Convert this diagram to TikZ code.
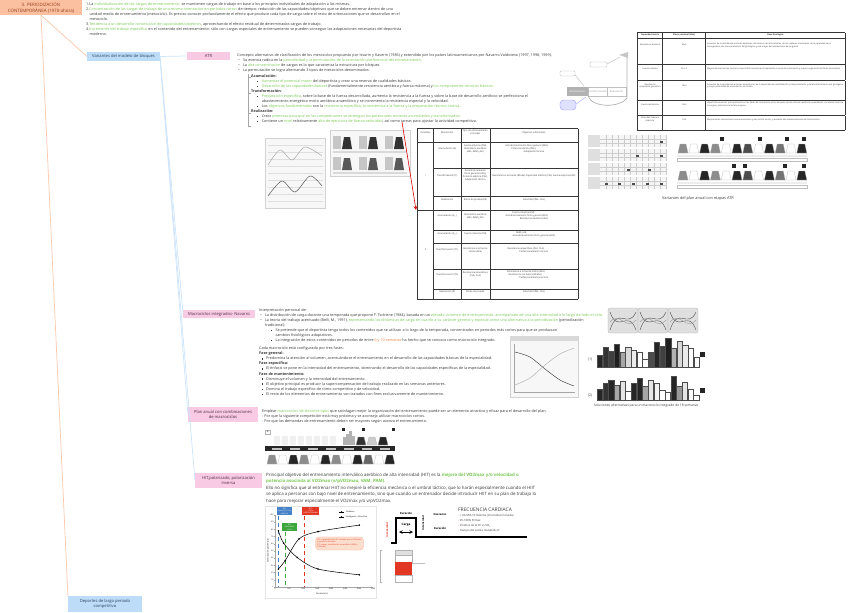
\documentclass[tikz,border=0pt]{standalone}
\usepackage{fontspec}
\setmainfont{Open Sans}
\usepackage{array}
\usetikzlibrary{arrows, positioning}

\definecolor{txtgray}{RGB}{55,55,55}
\definecolor{lgreen}{RGB}{120,200,80}
\definecolor{lorange}{RGB}{240,125,55}
\definecolor{rootfill}{RGB}{250,192,160}
\definecolor{roottext}{RGB}{150,60,25}
\definecolor{bluefill}{RGB}{188,220,248}
\definecolor{bluetext}{RGB}{45,65,95}
\definecolor{pinkfill}{RGB}{248,202,228}
\definecolor{pinktext}{RGB}{80,45,70}
\definecolor{orangeline}{RGB}{250,200,170}
\definecolor{blueline}{RGB}{205,228,250}
\definecolor{hitred}{RGB}{225,55,35}
\definecolor{hitblue}{RGB}{70,130,200}
\definecolor{hitgreen}{RGB}{60,165,60}
\definecolor{hitpeach}{RGB}{252,222,205}

\newcommand{\hlg}[1]{\textcolor{lgreen}{#1}}
\newcommand{\hlo}[1]{\textcolor{lorange}{#1}}
\newcommand{\bul}{\makebox[4pt][l]{\textbullet}}
\newcommand{\sqb}{\makebox[4pt][l]{\rule[0.2ex]{0.6ex}{0.6ex}}}
\newcommand{\fsmall}{\fontsize{3.2}{4.3}\selectfont}
\newcommand{\fhit}{\fontsize{3.75}{5.5}\selectfont}
\newcommand{\ftiny}{\fontsize{2}{2.5}\selectfont}
\newcommand{\fmicro}{\fontsize{1.8}{2.3}\selectfont}
\newcommand{\rh}[1]{\rule[\dimexpr-#1pt/2+0.5pt\relax]{0pt}{#1pt}}
\newcolumntype{C}[1]{>{\centering\arraybackslash}m{#1}}
\newcolumntype{L}[1]{>{\raggedright\arraybackslash}m{#1}}
\newcolumntype{Z}{@{}m{0pt}@{\hspace{1pt}}}

\tikzset{
    rootbox/.style={rectangle, fill=rootfill, text=roottext, align=center, inner sep=0pt, minimum width=69.7pt, minimum height=12.8pt, font=\fontsize{3.8}{4.8}\selectfont},
    bluebox/.style={rectangle, fill=bluefill, text=bluetext, align=center, inner sep=0pt, minimum height=7.7pt, font=\fontsize{3.5}{4.5}\selectfont},
    pinkbox/.style={rectangle, fill=pinkfill, text=pinktext, align=center, inner sep=0pt, minimum height=6.8pt, font=\fontsize{3.5}{4.5}\selectfont},
    txt/.style={anchor=north west, align=left, inner sep=0pt, text=txtgray, font=\fsmall},
    tabbox/.style={anchor=north west, inner sep=0pt, text=txtgray, font=\ftiny},
    omline/.style={draw=orangeline, line width=0.6pt},
    blline/.style={draw=blueline, line width=0.6pt},
    imgframe/.style={draw=gray!35, fill=gray!6, line width=0.2pt},
    redarrow/.style={->, draw=red!85!black, line width=0.5pt}
}

\begin{document}
\begin{tikzpicture}[x=0.03cm, y=-0.03cm, >=stealth, line width=0.3pt]
\useasboundingbox (0,0) rectangle (848,612);

        % -----------------------------------------------------------------
        % NODOS DEL MAPA
        % -----------------------------------------------------------------
        \node[rootbox] (root) at (41,7.5) {3. PERIODIZACIÓN\\CONTEMPORÁNEA (1970-ahora)};
        \node[bluebox, minimum width=62pt] (variantes) at (123.5,56.5) {Variantes del modelo de bloques};
        \node[bluebox, minimum width=63pt, minimum height=13.6pt] (deportes) at (105,604) {Deportes de largo periodo\\competitivo};
        \node[pinkbox, minimum width=36.6pt] (atr) at (208.5,56) {ATR};
        \node[pinkbox, minimum width=61pt] (macro) at (219,314) {Macrociclos integrados- Navarro};
        \node[pinkbox, minimum width=59.5pt, minimum height=12.8pt] (plan) at (223,414.5) {Plan anual con combinaciones\\de macrociclos};
        \node[pinkbox, minimum width=57pt, minimum height=12.8pt] (hit) at (228.5,480.5) {HIT,polarizado, polarización\\inversa};

        \draw[omline] (root.south) -- (deportes.north west);
        \draw[omline] (root.south) -- (variantes.west);
        \draw[blline] (variantes.east) -- (atr.west);
        \draw[blline] (variantes.east) -- (macro.west);
        \draw[blline] (variantes.east) -- (plan.west);
        \draw[blline] (variantes.east) -- (hit.west);

        % -----------------------------------------------------------------
        % PRINCIPIOS
        % -----------------------------------------------------------------
        \node[txt] (principios) at (86,2) {1.La \hlg{individualización de las cargas de entrenamiento:} se mantienen cargas de trabajo en base a los principios individuales de adaptación a las mismas.\\
2.\hlg{Concentración de las cargas de trabajo de una misma orientación en periodos cortos} de tiempo: reducción de las capacidades/objetivos que se deben entrenar dentro de una\\
\hspace*{3pt}unidad media de entrenamiento (mesociclo). Es preciso conocer profundamente el efecto que produce cada tipo de carga sobre el resto de orientaciones que se desarrollan en el\\
\hspace*{3pt}mesociclo.\\
3.\hlg{Tendencia a un desarrollo consecutivo de capacidades/objetivos}, aprovechando el efecto residual de determinadas cargas de trabajo.\\
4.\hlg{Incremento del trabajo específico} en el contenido del entrenamiento: sólo con cargas especiales de entrenamiento se pueden conseguir las adaptaciones necesarias del deportista\\
\hspace*{3pt}moderno.};

        % -----------------------------------------------------------------
        % ATR
        % -----------------------------------------------------------------
        \node[txt] (atrtxt) at (237,53) {Concepto alternativo de clasificación de los mesociclos propuesto por Issurin y Kaverin (1986) y extendido por los países latinoamericanos por Navarro Valdivieso (1997, 1998, 1999).\\
\hspace*{1pt}\bul Su esencia radica en la \hlg{periodicidad y la permutación de la orientación preferencial del entrenamiento}.\\
\hspace*{1pt}\bul La \hlg{alta concentración} de cargas es lo que caracteriza la estructura por bloques.\\
\hspace*{1pt}\bul La permutación se logra alternando 3 tipos de mesociclos denominados:\\[1pt]
\hspace*{12pt}\textbf{Acumulación:}\\
\hspace*{17pt}\sqb\hlg{Aumentar el potencial motor} del deportista y crear una reserva de cualidades básicas.\\
\hspace*{17pt}\sqb\hlg{Desarrollo de las capacidades básicas} (fundamentalmente resistencia aeróbica y fuerza máxima) y \hlg{los componentes técnicos básicos.}\\
\hspace*{12pt}\textbf{Transformación:}\\
\hspace*{17pt}\sqb\hlg{Preparación específica}, sobre la base de la fuerza desarrollada, aumenta la resistencia a la fuerza y sobre la base de desarrollo aeróbico se perfecciona el\\
\hspace*{21pt}abastecimiento energético mixto aeróbico-anaeróbico y se incrementa la resistencia especial y la velocidad.\\
\hspace*{17pt}\sqb Los \hlg{objetivos fundamentales} son la \hlg{resistencia específica, la resistencia a la fuerza y la preparación técnico-táctica}.\\
\hspace*{12pt}\textbf{Realización:}\\
\hspace*{17pt}\sqb Crear \hlg{premisas para que en las competiciones se obtengan los potenciales motores acumulados y transformados}.\\
\hspace*{17pt}\sqb Contiene un \hlg{nivel} relativamente \hlg{alto de ejercicios de fuerza-velocidad}, así como tareas para ajustar la actividad competitiva.};
        \draw[gray!70, line width=0.5pt] (248,74) -- (248,126);
        \foreach \yy in {77,93,113,126} \draw[gray!70, line width=0.5pt] (248,\yy) -- (251,\yy);

        % esquema ATR
        \fill[gray!60] (567,87) rectangle (588,96);
        \node[font=\fontsize{2.2}{2.6}\selectfont, text=white, inner sep=0pt] (acum) at (577.5,91.5) {Acumulación};
        \draw[gray!50, fill=white] (588,87) rectangle (607,96);
        \node[font=\fontsize{2.2}{2.6}\selectfont, text=gray!80, inner sep=0pt] (trans) at (597.5,91.5) {Transformación};
        \draw[gray!50, fill=white] (607,87) rectangle (626,96);
        \node[font=\fontsize{2.2}{2.6}\selectfont, text=gray!80, inner sep=0pt] (real) at (616.5,91.5) {Realización};
        \draw[gray!60, line width=0.6pt] (588,96) .. controls (592,108) and (620,108) .. (627,98) -- (627,55);
        \fill[gray!45] (619,55) -- (628,52) -- (628,58) -- cycle;
        \draw[gray!60, fill=white, rounded corners=1pt] (560,71) rectangle (575,76);
        \draw[gray!60] (575,75) -- (584,86);
        \draw[gray!60, fill=white, rounded corners=1pt] (590,62) rectangle (607,67);
        \draw[gray!60] (607,64) -- (620,57);
        \draw[blue!40, fill=blue!12, rounded corners=3pt] (560,100) rectangle (576,110);
        \draw[blue!40] (576,104) -- (586,97);

        % imagenes ATR
        \draw[imgframe] (265,138) rectangle (325,208);
        \foreach \yy in {145,152,...,205} \draw[gray!25, line width=0.15pt] (268,\yy) -- (323,\yy);
        \draw[gray!70, line width=0.4pt] plot[smooth] coordinates {(268,165) (280,150) (292,160) (305,147) (322,156)};
        \draw[black!70, line width=0.4pt] plot[smooth] coordinates {(268,196) (282,181) (295,192) (310,176) (322,186)};
        \draw[imgframe] (330,130) rectangle (410,176);
        \foreach \xx in {333,359,385} {
            \fill[gray!45] (\xx,136) rectangle (\xx+8,149);
            \fill[black!80] (\xx+9,149) -- (\xx+11,137) -- (\xx+17,137) -- (\xx+19,149) -- cycle;
            \fill[gray!45] (\xx,157) rectangle (\xx+8,170);
            \fill[black!65] (\xx+9,170) -- (\xx+11,158) -- (\xx+17,158) -- (\xx+19,170) -- cycle;
        }
        \fill[gray!30] (333,151) rectangle (407,153);
        \fill[gray!30] (333,172) rectangle (407,174);

        % tabla de capacidades
        \node[tabbox] (captab) at (637,32) {\fmicro\setlength{\tabcolsep}{1pt}\renewcommand{\arraystretch}{0.85}%
\begin{tabular}{|ZC{19.1pt}|C{34.4pt}|L{116.6pt}|}
\hline
\rh{4.3} & \textbf{Capacidad motriz} & \textbf{Efecto residual (días)} & \multicolumn{1}{C{116.6pt}|}{\textbf{Base fisiológica}}\\ \hline
\rh{22} & Resistencia aeróbica & 30±5 & Aumento de la cantidad de enzimas aeróbicas, del número de mitocondrias, de los capilares musculares, de la capacidad de la hemoglobina, del almacenamiento del glucógeno y una mayor del metabolismo de las grasas\\ \hline
\rh{13.6} & Fuerza máxima & 30 ± 5 & Mejora del mecanismo nervioso, hipertrofia muscular principalmente a causa del crecimiento y mayor longitud de las fibras musculares\\ \hline
\rh{16.2} & Resistencia anaeróbica glucolítica & 18±4 & Aumento de la cantidad de enzimas anaeróbicas, de la capacidad de neutralización y tamponamiento y del almacenamiento del glucógeno, y mayor posibilidad de acumulación de lactato\\ \hline
\rh{12.8} & Fuerza resistencia & 15±5 & Hipertrofia muscular principalmente en las fibras de contracción lenta, aumento de las enzimas aeróbicas-anaeróbicas, circulación local de la sangre y tolerancia al lactato mejores\\ \hline
\rh{12} & Velocidad máxima (aláctica) & 5±3 & Mejora de las interacciones neuromusculares y del control motor, y aumento del almacenamiento de fosfocreatina\\ \hline
\end{tabular}};

        % tabla de variantes
        \node[tabbox] (vartab) at (417,128) {\setlength{\tabcolsep}{1pt}\renewcommand{\arraystretch}{0.9}%
\begin{tabular}{|ZC{11.4pt}|C{20.8pt}|C{22.5pt}|C{72.6pt}|}
\hline
\rh{11} & Variantes & Mesociclos & Tipo de entrenamiento principal & Objetivos adicionales\\ \hline
\rh{22} & & Acumulación (A) & Fuerza máxima (FM), Resistencia aeróbica (AEL, AEM y AE) & Acondicionamiento físico general (AFG),\newline Potencia aláctica (PAL),\newline Adaptación técnica\\ \cline{3-5}
\rh{24} & I & Transformación (T) & Acondicionamiento físico general (AFG), Potencia aláctica (PAL), Adaptación técnica & Resistencia a la fuerza (RFaAe) Capacidad aláctica (CAL) Fuerza explosiva (FE)\\ \cline{3-5}
\rh{12} & & Realización & Ritmo de prueba (RP) & Velocidad (PAL, CAL)\\ \hline
\rh{17} & & Acumulación (A\textsubscript{1}) & Resistencia aeróbica (AEL, AEM y AE) & Fuerza máxima (FM)\newline Acondicionamiento físico general (AFG)\newline Resistencia aeróbica (AEL)\\ \cline{3-5}
\rh{11} & & Acumulación (A\textsubscript{2}) & Fuerza máxima (FM) & AEM y AE,\newline Acondicionamiento físico general (AFG)\\ \cline{3-5}
\rh{22} & II & Transformación (T1) & Resistencia a la fuerza láctica (RFa) & Resistencia anaeróbica (PLA, CLA)\newline Perfeccionamiento técnico\\ \cline{3-5}
\rh{17} & & Transformación (T2) & Resistencia anaeróbica (PLA, CLA) & Resistencia a la fuerza láctica (RFa)\newline Resistencia a la fuerza (RFaAe)\newline Perfeccionamiento técnico\\ \cline{3-5}
\rh{8.5} & & Realización (R) & Ritmo de prueba & Velocidad (PAL, CAL)\\ \hline
\end{tabular}};
        \coordinate (redstart) at (402,122);
        \coordinate (redend) at (416,210);
        \draw[redarrow] (redstart) -- (redend);

        % variantes del plan anual
        \foreach \yy in {135,149,163,177} {
            \fill[gray!8] (588,\yy) rectangle (667,\yy+12);
            \fill[gray!25] (588,\yy) rectangle (600,\yy+12);
            \foreach \xx in {606,612,...,666} \draw[gray!40, line width=0.15pt] (\xx,\yy) -- (\xx,\yy+12);
            \draw[gray!40, line width=0.15pt] (600,\yy+4) -- (667,\yy+4) (600,\yy+8) -- (667,\yy+8);
        }
        \foreach \xx/\yy in {660/143, 636/157, 660/157, 627/171, 648/171, 605/185, 618/185, 632/185, 646/185, 660/185}
            \fill[black!70] (\xx,\yy-2.5) rectangle (\xx+2.5,\yy);
        \foreach \base/\sh in {153/0, 180/1} {
            \foreach \i/\k in {0/45,1/0,2/85,3/45,4/0,5/85,6/70,7/0,8/85,9/55,10/0,11/85} {
                \filldraw[draw=gray!60, fill=black!\k, line width=0.2pt] (678+\i*10.8,\base) -- (680+\i*10.8,\base-9) -- (686+\i*10.8,\base-9) -- (688+\i*10.8,\base) -- cycle;
            }
            \fill[gray!15] (677,\base+2) rectangle (807,\base+4);
            \draw[gray!50, line width=0.2pt] (677,\base+5) rectangle (807,\base+8);
        }
        \foreach \xx/\yy in {720/137, 758/137, 785/137, 802/137, 732/164, 743/164, 783/164, 802/164}
            \fill[black!85] (\xx,\yy) rectangle (\xx+3.5,\yy+3.5);
        \node[font=\fontsize{3.3}{4}\selectfont, text=txtgray, inner sep=0pt] (captatr) at (698,198) {Variantes del plan anual con etapas ATR};

        % -----------------------------------------------------------------
        % MACROCICLOS INTEGRADOS
        % -----------------------------------------------------------------
        \node[txt] (macrotxt) at (259,308) {Interpretación personal de:\\
\hspace*{1pt}\bul La distribución de carga durante una temporada que propone F. Tschiene (1984), basada en un \hlg{elevado volumen de entrenamiento, acompañado de una alta intensidad a lo largo de todo el ciclo.}\\
\hspace*{1pt}\bul La teoría del trabajo acentuado (Belli, M., 1991), \hlg{representando las dinámicas de carga en cuanto a su carácter general y especial como una alternativa a la periodización} (periodización\\
\hspace*{5pt}tradicional).\\
\hspace*{10pt}\sqb Se pretende que el deportista tenga todos los contenidos que se utilizan a lo largo de la temporada, concentrados en periodos más cortos para que se produzcan\\
\hspace*{14pt}cambios fisiológicos adaptativos.\\
\hspace*{10pt}\sqb La integración de estos contenidos en periodos de entre \hlo{6 y 10 semanas} ha hecho que se conozca como macrociclo integrado.\\[3pt]
Cada macrociclo está configurado por tres fases:\\
\textbf{Fase general:}\\
\hspace*{2pt}\sqb Predomina la atención al volumen, acentuándose el entrenamiento en el desarrollo de las capacidades básicas de la especialidad.\\
\textbf{Fase específica:}\\
\hspace*{2pt}\sqb El énfasis se pone en la intensidad del entrenamiento, dominando el desarrollo de las capacidades específicas de la especialidad.\\
\textbf{Fase de mantenimiento:}\\
\hspace*{2pt}\sqb Disminuye el volumen y la intensidad del entrenamiento.\\
\hspace*{2pt}\sqb El objetivo principal es producir la supercompensación del trabajo realizado en las semanas anteriores.\\
\hspace*{2pt}\sqb Domina el trabajo específico de ritmo competitivo y de velocidad.\\
\hspace*{2pt}\sqb El resto de los elementos de entrenamiento son tratados con fines exclusivamente de mantenimiento.};

        % imagenes macrociclo
        \draw[imgframe] (510,336) rectangle (578,397);
        \fill[gray!30] (510,336) rectangle (578,341);
        \draw[gray!70] (514,392) -- (575,392) (514,392) -- (514,344);
        \draw[black!75, line width=0.4pt] plot[smooth] coordinates {(515,352) (530,357) (545,369) (560,380) (574,386)};
        \draw[gray!60, line width=0.4pt] plot[smooth] coordinates {(515,385) (530,378) (545,365) (560,354) (574,348)};
        \foreach \xx in {608,638,668} {
            \filldraw[draw=gray!60, fill=gray!25, rounded corners=2pt] (\xx,308) rectangle (\xx+30,333);
            \draw[black!70, line width=0.35pt] (\xx+2,330) .. controls (\xx+10,305) and (\xx+20,330) .. (\xx+28,312);
            \draw[black!70, line width=0.35pt] (\xx+2,312) .. controls (\xx+10,335) and (\xx+20,308) .. (\xx+28,330);
            \draw[gray!75, line width=0.35pt] (\xx+2,322) .. controls (\xx+12,310) and (\xx+18,332) .. (\xx+28,320);
        }
        \foreach \xa/\top/\sh in {597/355/85, 602.7/346.7/80, 608.3/350.7/75, 614/344.3/88, 619.7/352.3/35, 625.3/346.7/15, 631/350/8, 636.7/352.3/0, 642.3/359.3/0,
            648.3/352.3/70, 654/341.7/85, 659.7/346/75, 665.3/338.3/88, 671/348.3/30, 676.7/341/15, 682.3/345/8, 688/348.3/0, 693.7/357.3/0}
            \filldraw[draw=black!70, fill=black!\sh, line width=0.2pt] (\xa,367) rectangle (\xa+5.6,\top);
        \foreach \xa/\top/\sh in {597/389.3/85, 602.7/383.3/80, 608.3/380/85, 614/385/35, 619.7/381/10, 625.3/390.7/0,
            631/383.3/85, 636.7/378.3/85, 642.3/386/35, 648/380/10, 653.7/382.7/5, 659.3/390/0, 665/391.7/0,
            670.7/376/85, 676.3/386/40, 682/381.7/10, 687.7/389.3/0, 693.3/395/0}
            \filldraw[draw=black!70, fill=black!\sh, line width=0.2pt] (\xa,400) rectangle (\xa+5.6,\top);
        \fill[black!85] (700,352) rectangle (705,357);
        \fill[black!85] (700,388) rectangle (705,393);
        \node[font=\fontsize{3}{4}\selectfont, text=txtgray, inner sep=0pt] (uno) at (590,360) {(1)};
        \node[font=\fontsize{3}{4}\selectfont, text=txtgray, inner sep=0pt] (dos) at (590,395) {(2)};
        \node[font=\fontsize{2.8}{3.5}\selectfont, text=txtgray, inner sep=0pt] (captmacro) at (646,406) {Soluciones alternativas para un macrociclo integrado de 18 semanas};

        % -----------------------------------------------------------------
        % PLAN ANUAL
        % -----------------------------------------------------------------
        \node[txt] (plantxt) at (262,409) {Emplear \hlg{macrociclos de distintos tipos} que satisfagan mejor la organización del entrenamiento puede ser un elemento atractivo y eficaz para el desarrollo del plan.\\
- Por que la siguiente competición está muy próxima y se aconseja utilizar macrociclos cortos.\\
- Por que las demandas de entrenamiento deben ser mayores según avanza el entrenamiento.};
        \draw[gray!60, fill=white] (265,430) rectangle (270,434);
        \node[font=\fontsize{2}{2.5}\selectfont, inner sep=0pt] (planA) at (267.5,432) {A};
        \foreach \xx in {274,282,...,330} \fill[gray!12] (\xx,436) rectangle (\xx+6,445);
        \foreach \xx/\hh in {343/437, 346/434, 349/431, 352/436} \fill[gray!60] (\xx,445) rectangle (\xx+2.5,\hh);
        \foreach \xx/\k in {356/80, 367/20, 378/85} \filldraw[draw=gray!60, fill=black!\k] (\xx,445) -- (\xx+2,437) -- (\xx+8,437) -- (\xx+10,445) -- cycle;
        \foreach \xx in {342,362,392} \fill[black!85] (\xx,428) rectangle (\xx+3,431);
        \fill[black!85] (265,446) rectangle (395,451);
        \foreach \xx in {272,290,...,380} \fill[gray!50] (\xx,447.5) rectangle (\xx+10,449.5);
        \foreach \i/\k in {0/45,1/0,2/85,3/45,4/0,5/85,6/45,7/0,8/85,9/60,10/0,11/85} \filldraw[draw=gray!60, fill=black!\k, line width=0.2pt] (267+\i*10.7,464) -- (269+\i*10.7,455) -- (275+\i*10.7,455) -- (277+\i*10.7,464) -- cycle;

        % -----------------------------------------------------------------
        % HIT
        % -----------------------------------------------------------------
        \node[txt, font=\fhit] (hittxt) at (266,473) {Principal objetivo del entrenamiento interválico aeróbico de alta intensidad (HIT) es la \textbf{\hlg{mejora del VO2max y/o velocidad o}}\\
\textbf{\hlg{potencia asociada al VO2max (v/pVO2max, VAM, PAM).}}\\
Ello no significa que al entrenar HIIT no mejore la eficiencia mecánica o el umbral láctico, que lo harán especialmente cuando el HIIT\\
se aplica a personas con bajo nivel de entrenamiento, sino que cuando un entrenador decide introducir HIIT en su plan de trabajo lo\\
hace para mejorar especialmente el VO2max y/o v/pVO2max.};

        % grafica
        \draw[draw=gray!20, fill=white] (265,506) rectangle (376,598);
        \draw[gray!70] (275,587) -- (373,587);
        \draw[gray!70] (275,587) -- (275,515);
        \foreach \v in {0,10,...,100} {
            \draw[gray!70] (274,587-\v*0.72) -- (275,587-\v*0.72);
            \node[font=\fontsize{1.6}{2}\selectfont, anchor=east, inner sep=0.4pt] at (274,587-\v*0.72) {\v};
        }
        \foreach \s in {0,500,...,3500}
            \node[font=\fontsize{1.6}{2}\selectfont, anchor=north, inner sep=0.6pt] at (275+\s*0.028,587) {\s};
        \node[font=\fontsize{1.8}{2}\selectfont, rotate=90, inner sep=0pt] (ylab) at (268,551) {Contribución porcentual};
        \node[font=\fontsize{1.8}{2}\selectfont, inner sep=0pt] (xlab) at (322,594) {Duración (s)};
        \draw[hitblue, dashed, line width=0.4pt] (278,516) -- (278,587);
        \draw[hitgreen, dashed, line width=0.5pt] (285.3,532) -- (285.3,587);
        \draw[hitred, dashed, line width=0.4pt] (304,516) -- (304,587);
        \draw[black, line width=0.45pt] plot[smooth] coordinates {(278.4,530.8) (283.6,543.1) (297.3,557.5) (318,569) (359.3,574.8)};
        \draw[black, line width=0.45pt] plot[smooth] coordinates {(278.4,569) (285.3,560.4) (299.1,538.8) (318,531.6) (359.3,525.1)};
        \foreach \px/\py in {278.4/530.8, 283.6/543.1, 297.3/557.5, 318/569, 359.3/574.8, 278.4/569, 285.3/560.4, 299.1/538.8, 318/531.6, 359.3/525.1}
            \fill[black] (\px,\py) circle (0.9);
        \node[fill=hitblue, text=white, font=\fontsize{1.7}{2}\selectfont, align=center, inner sep=0.6pt, minimum width=12pt] (boxazul) at (284.5,511) {HIT\\Sprint (< 10 s)\\aláctico};
        \node[fill=hitred, text=white, font=\fontsize{1.7}{2}\selectfont, align=center, inner sep=0.6pt, minimum width=15pt] (boxrojo) at (310.5,511) {HIT\\> 60 s\\(>90\% VO2máx)};
        \node[fill=hitgreen, text=white, font=\fontsize{1.7}{2}\selectfont, align=center, inner sep=0.6pt, minimum width=12pt] (boxverde) at (289.5,527) {HIT\\Intervalos\\< 60 s};
        \draw[black, line width=0.4pt] (339,512) -- (344,512);
        \fill[black] (341.5,512) circle (0.9);
        \node[font=\fontsize{1.7}{2}\selectfont, anchor=west, inner sep=0.5pt] (legox) at (345,512) {Oxidativo};
        \draw[black, line width=0.4pt] (339,517) -- (344,517);
        \fill[black] (341.5,517) circle (0.9);
        \node[font=\fontsize{1.7}{2}\selectfont, anchor=west, inner sep=0.5pt] (legfg) at (345,517) {Fosfágenos + Glucólisis};
        \node[fill=hitpeach, draw=hitpeach!80!red, rounded corners=3pt, text=hitred, font=\fontsize{1.7}{2.2}\selectfont, align=left, inner sep=1.5pt, text width=38pt] (nota) at (339.5,543.5) {HIT: capacidad del HIT limitada por el VO2máx y potencia aeróbica\\SIT: mayor contribución anaeróbica (PAM y VO2máx)};

        % esquema carga
        \draw[black, line width=1pt] (391,543) -- (396,543) -- (396,518) -- (416,518) -- (416,537) -- (527,537);
        \node[font=\fontsize{2.6}{3}\selectfont\bfseries, inner sep=0pt] (cargalbl) at (406,525) {Carga};
        \draw[<->, line width=0.4pt] (399,532) -- (413,532);
        \node[font=\fontsize{2.3}{3}\selectfont\bfseries, inner sep=0pt] (durlbl) at (406,513) {Duración};
        \node[font=\fontsize{2.3}{3}\selectfont\bfseries, text=hitred, rotate=90, inner sep=0pt] (intlbl) at (387,530) {Intensidad};
        \node[font=\fontsize{2.3}{3}\selectfont\bfseries, rotate=90, inner sep=0pt] (intlbl2) at (423,523) {Intensidad};
        \node[font=\fontsize{2.3}{3}\selectfont\bfseries, inner sep=0pt] (desclbl) at (440,515) {Descanso};
        \node[font=\fontsize{2.3}{3}\selectfont\bfseries, inner sep=0pt] (durlbl2) at (440,528) {Duración};
        \node[txt, font=\fontsize{4.2}{5}\selectfont] (fclbl) at (458,508) {FRECUENCIA CARDIACA};
        \node[txt, font=\fontsize{2.4}{4.4}\selectfont] (fclist) at (458,514) {\textcolor{hitred}{-} > 90-95\% FCmáxima (intensidad incluida)\\\textcolor{hitred}{-} 95-100\% FCmax\\\textcolor{hitred}{-} Cinética de la FC vs VO\textsubscript{2}\\\textcolor{hitred}{-} Tiempo del estrés metabólico?};
        \draw[gray!60, line width=0.3pt] (382,550) -- (380,550) -- (380,582) -- (382,582);
        \draw[gray!60, fill=gray!25] (395,550) rectangle (412,555);
        \draw[gray!60, fill=white] (395,555) rectangle (412,562);
        \fill[hitred] (395,562) rectangle (412,575);
        \draw[gray!60, fill=white] (395,575) rectangle (412,582);
        \draw[gray!50, line width=0.2pt] (412,563) -- (425,563);

\end{tikzpicture}
\end{document}
